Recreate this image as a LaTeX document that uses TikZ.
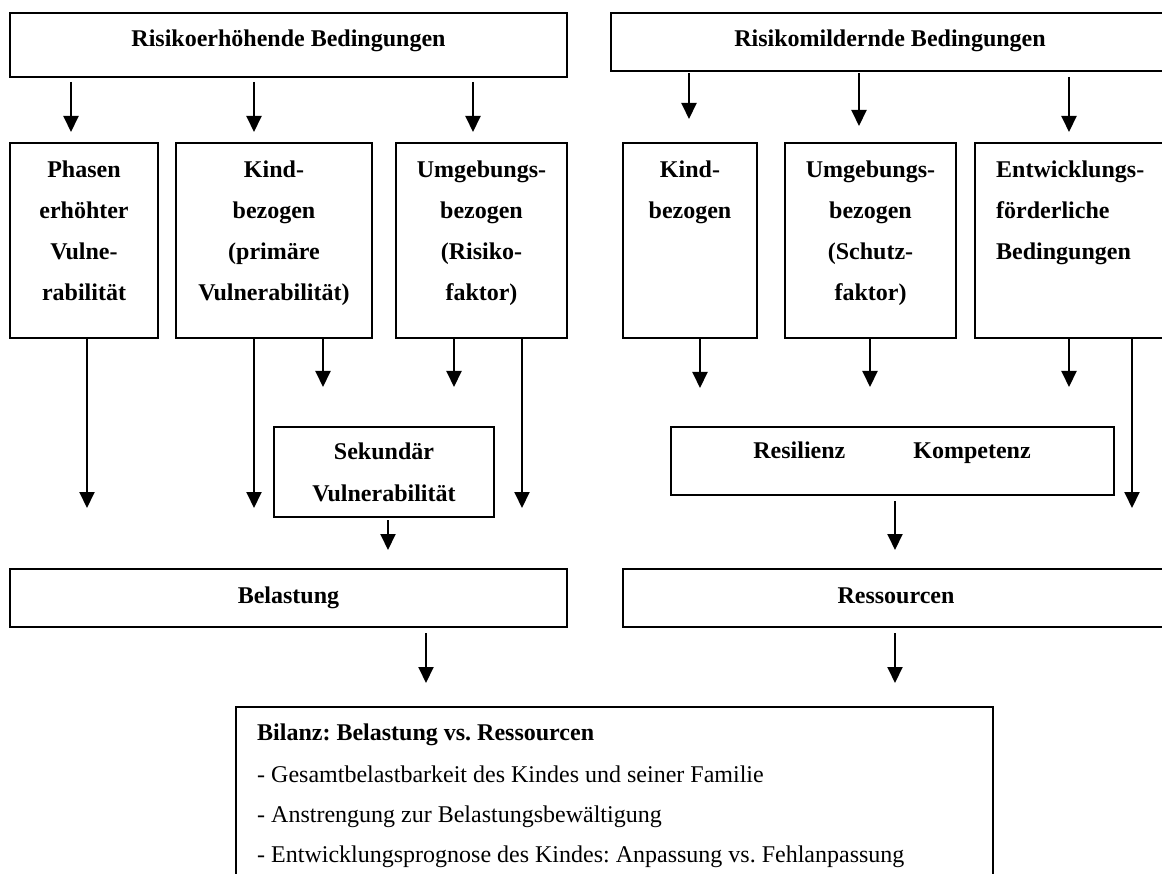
\documentclass[tikz,border=0pt]{standalone}
\usepackage{fontspec}
\setmainfont{Liberation Serif}
\usetikzlibrary{arrows.meta,fit}
\newcommand\mystrut{\rule{0pt}{20pt}}
\frenchspacing
\begin{document}
\begin{tikzpicture}[x=1pt,y=-1pt,
  box/.style={draw, line width=2pt, inner sep=0pt, rectangle},
  arr/.style={line width=2pt, -{Triangle[width=15pt,length=16pt]}},
  txt/.style={anchor=north, inner sep=0pt, align=center, font=\fontsize{24}{41}\selectfont\bfseries},
  txtl/.style={anchor=north west, inner sep=0pt, align=left, font=\fontsize{24}{41}\selectfont\bfseries},
  plain/.style={anchor=north west, inner sep=0pt, align=left, font=\fontsize{24}{40}\selectfont},
]
\useasboundingbox (0,0) rectangle (1162,874);
\fill[white] (0,0) rectangle (1162,874);
\clip (0,0) rectangle (1162,874);

% top boxes
\node[box, fit={(10,13) (567,77)}] (R1) {};
\node[txt] (R1t) at (288.5,26) {\mystrut Risikoerhöhende Bedingungen};
\node[box, fit={(611,13) (1169,71)}] (R2) {};
\node[txt] (R2t) at (890,26) {\mystrut Risikomildernde Bedingungen};

% second row
\node[box, fit={(10,143) (158,338)}] (P1) {};
\node[txt] (P1t) at (84,157) {\mystrut Phasen\\erhöhter\\Vulne-\\rabilität};
\node[box, fit={(176,143) (372,338)}] (K1) {};
\node[txt] (K1t) at (274,157) {\mystrut Kind-\\bezogen\\(primäre\\Vulnerabilität)};
\node[box, fit={(396,143) (567,338)}] (U1) {};
\node[txt] (U1t) at (481.5,157) {\mystrut Umgebungs-\\bezogen\\(Risiko-\\faktor)};
\node[box, fit={(623,143) (757,338)}] (K2) {};
\node[txt] (K2t) at (690,157) {\mystrut Kind-\\bezogen};
\node[box, fit={(785,143) (956,338)}] (U2) {};
\node[txt] (U2t) at (870.5,157) {\mystrut Umgebungs-\\bezogen\\(Schutz-\\faktor)};
\node[box, fit={(975,143) (1169,338)}] (E2) {};
\node[txtl] (E2t) at (996,157) {\mystrut Entwicklungs-\\förderliche\\Bedingungen};

% middle boxes
\node[box, fit={(274,427) (494,517)}] (S) {};
\node[txt, font=\fontsize{24}{42}\selectfont\bfseries] (St) at (384,439) {\mystrut Sekundär\\Vulnerabilität};
\node[box, fit={(671,427) (1114,495)}] (RK) {};
\node[txt] (RKt) at (892,438) {\mystrut Resilienz\hspace{68pt}Kompetenz};

% Belastung / Ressourcen
\node[box, fit={(10,569) (567,627)}] (B) {};
\node[txt] (Bt) at (288.5,583) {\mystrut Belastung};
\node[box, fit={(623,569) (1169,627)}] (Rs) {};
\node[txt] (Rst) at (896,583) {\mystrut Ressourcen};

% Bilanz
\node[box, fit={(236,707) (993,900)}] (Bil) {};
\node[txtl] (Bilt) at (257,720) {\mystrut Bilanz: Belastung vs. Ressourcen};
\node[plain] (Bill) at (257,762) {\mystrut - Gesamtbelastbarkeit des Kindes und seiner Familie\\- Anstrengung zur Belastungsbewältigung\\- Entwicklungsprognose des Kindes: Anpassung vs. Fehlanpassung};

% arrow end coordinates
\coordinate (t1) at (71,132);
\coordinate (t2) at (254,132);
\coordinate (t3) at (473,132);
\coordinate (t4) at (689,119);
\coordinate (t5) at (859,126);
\coordinate (t6) at (1069,132);
\coordinate (d1) at (87,508);
\coordinate (d2) at (254,508);
\coordinate (d3) at (323,387);
\coordinate (d4) at (454,387);
\coordinate (d5) at (522,508);
\coordinate (d6) at (700,388);
\coordinate (d7) at (870,387);
\coordinate (d8) at (1069,387);
\coordinate (d9) at (1132,508);
\coordinate (s1) at (388,550);
\coordinate (s2) at (895,550);
\coordinate (b1) at (426,683);
\coordinate (b2) at (895,683);

% arrows
\draw[arr] ([yshift=-4pt]R1.south -| t1) -- (t1);
\draw[arr] ([yshift=-4pt]R1.south -| t2) -- (t2);
\draw[arr] ([yshift=-4pt]R1.south -| t3) -- (t3);
\draw[arr] ([yshift=-1pt]R2.south -| t4) -- (t4);
\draw[arr] ([yshift=-1pt]R2.south -| t5) -- (t5);
\draw[arr] ([yshift=-5pt]R2.south -| t6) -- (t6);

\draw[arr] (P1.south -| d1) -- (d1);
\draw[arr] (K1.south -| d2) -- (d2);
\draw[arr] (K1.south -| d3) -- (d3);
\draw[arr] (U1.south -| d4) -- (d4);
\draw[arr] (U1.south -| d5) -- (d5);
\draw[arr] (K2.south -| d6) -- (d6);
\draw[arr] (U2.south -| d7) -- (d7);
\draw[arr] (E2.south -| d8) -- (d8);
\draw[arr] (E2.south -| d9) -- (d9);

\draw[arr] ([yshift=-2pt]S.south -| s1) -- (s1);
\draw[arr] ([yshift=-5pt]RK.south -| s2) -- (s2);
\draw[arr] ([yshift=-5pt]B.south -| b1) -- (b1);
\draw[arr] ([yshift=-5pt]Rs.south -| b2) -- (b2);
\end{tikzpicture}
\end{document}
